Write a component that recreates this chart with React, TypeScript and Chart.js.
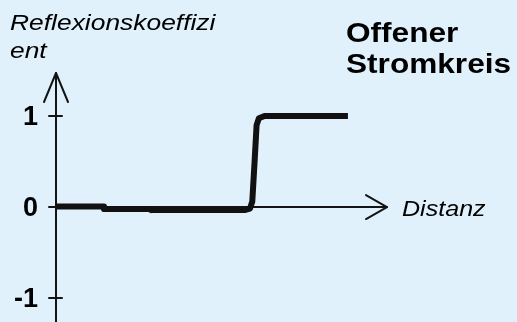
import React, { useEffect, useRef } from "react";
import { Chart, registerables } from "chart.js";

Chart.register(...registerables);

// ---- data ----
const distance: number[] = [0, 1.42, 1.45, 2.84, 2.87, 5.7, 5.86, 5.93, 6.0, 6.06, 6.13, 6.3, 8.82];
const reflection: number[] = [0.005, 0.005, -0.022, -0.022, -0.033, -0.033, -0.018, 0.06, 0.5, 0.9, 0.975, 1.0, 1.0];
const yTickValues: number[] = [-1, 0, 1];
const yTickLabels: string[] = ["-1", "0", "1"];
const yTitleLines: string[] = ["Reflexionskoeffizi", "ent"];
const xTitle = "Distanz";
const titleLines: string[] = ["Offener", "Stromkreis"];

const BG = "#E0F1FC";
const INK = "#141414";
const FONT = "Arial, 'Liberation Sans', Helvetica, sans-serif";

function stretchedText(ctx: CanvasRenderingContext2D, text: string, x: number, baseline: number, font: string, sx: number) {
  ctx.save();
  ctx.translate(x, baseline);
  ctx.scale(sx, 1);
  ctx.font = font;
  ctx.textAlign = "left";
  ctx.textBaseline = "alphabetic";
  ctx.fillStyle = "#000";
  ctx.fillText(text, 0, 0);
  ctx.restore();
}

const schematic = {
  id: "schematic",
  beforeDatasetsDraw(chart: any) {
    const { ctx, chartArea, scales } = chart;
    const x = scales.x;
    const y = scales.y;
    const x0 = x.getPixelForValue(0);
    const y0 = y.getPixelForValue(0);
    ctx.save();
    ctx.strokeStyle = INK;
    ctx.lineWidth = 2;
    ctx.lineCap = "round";
    ctx.lineJoin = "round";
    // y axis
    ctx.beginPath();
    ctx.moveTo(x0, chartArea.bottom + 2);
    ctx.lineTo(x0, chartArea.top);
    ctx.stroke();
    ctx.beginPath();
    ctx.moveTo(x0 - 12, chartArea.top + 29);
    ctx.lineTo(x0, chartArea.top);
    ctx.lineTo(x0 + 12, chartArea.top + 29);
    ctx.stroke();
    // x axis
    ctx.beginPath();
    ctx.moveTo(x0, y0);
    ctx.lineTo(chartArea.right, y0);
    ctx.stroke();
    ctx.beginPath();
    ctx.moveTo(chartArea.right - 21, y0 - 12);
    ctx.lineTo(chartArea.right, y0);
    ctx.lineTo(chartArea.right - 21, y0 + 12);
    ctx.stroke();
    // y ticks + labels
    ctx.font = `bold 27px ${FONT}`;
    ctx.fillStyle = "#000";
    ctx.textAlign = "right";
    ctx.textBaseline = "middle";
    yTickValues.forEach((v, i) => {
      const py = y.getPixelForValue(v);
      ctx.beginPath();
      ctx.moveTo(x0 - 7, py);
      ctx.lineTo(x0 + 6, py);
      ctx.stroke();
      ctx.fillText(yTickLabels[i], x0 - 18, py + 2);
    });
    ctx.restore();
  },
  afterDraw(chart: any) {
    const { ctx, chartArea, scales } = chart;
    const y0 = scales.y.getPixelForValue(0);
    stretchedText(ctx, yTitleLines[0], 10, 30, `italic 22px ${FONT}`, 1.2);
    stretchedText(ctx, yTitleLines[1], 10, 58, `italic 22px ${FONT}`, 1.2);
    stretchedText(ctx, xTitle, chartArea.right + 15, y0 + 9, `italic 22px ${FONT}`, 1.14);
    stretchedText(ctx, titleLines[0], 346, 42, `bold 27px ${FONT}`, 1.17);
    stretchedText(ctx, titleLines[1], 346, 73, `bold 27px ${FONT}`, 1.17);
  },
};

export default function App() {
  const ref = useRef<HTMLCanvasElement | null>(null);
  useEffect(() => {
    if (!ref.current) return;
    const chart = new Chart(ref.current, {
      type: "line",
      data: {
        datasets: [
          {
            data: distance.map((d, i) => ({ x: d, y: reflection[i] })),
            borderColor: "#111",
            borderWidth: 6,
            borderJoinStyle: "round",
            borderCapStyle: "butt",
            pointRadius: 0,
            tension: 0,
            fill: false,
          },
        ],
      },
      options: {
        animation: false,
        responsive: true,
        maintainAspectRatio: false,
        layout: { padding: { left: 56, top: 73, right: 130, bottom: 0 } },
        plugins: { legend: { display: false }, tooltip: { enabled: false }, title: { display: false } },
        scales: {
          x: { type: "linear", min: 0, max: 10, display: false },
          y: { type: "linear", min: -1.264, max: 1.473, display: false },
        },
      },
      plugins: [schematic],
    });
    return () => chart.destroy();
  }, []);
  return (
    <div style={{ position: "fixed", left: 0, top: 0, width: 517, height: 322, background: BG }}>
      <canvas ref={ref} />
    </div>
  );
}
